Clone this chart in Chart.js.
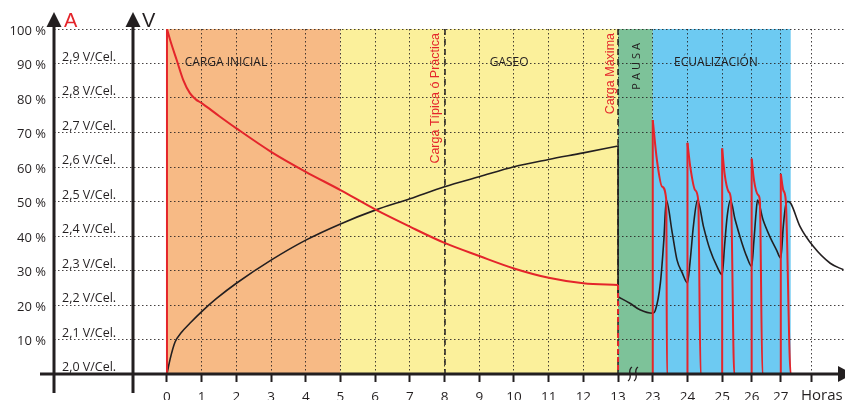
<!DOCTYPE html>
<html lang="es">
<head>
<meta charset="utf-8">
<title>Curva de carga de batería</title>
<script src="https://cdn.jsdelivr.net/npm/chart.js@4.4.1/dist/chart.umd.min.js"></script>
<style>
  html, body { margin: 0; padding: 0; background: #fff; }
  #chart-wrap { width: 845px; height: 400px; }
</style>
</head>
<body>
<div id="chart-wrap"><canvas id="chart-charge" width="845" height="400"></canvas></div>
<script>
'use strict';

// ── Datos ─────────────────────────────────────────────────
// eje X partido: de 13 h salta a 23 h
const tickHours  = [0, 1, 2, 3, 4, 5, 6, 7, 8, 9, 10, 11, 12, 13, 23, 24, 25, 26, 27, 28];
const tickLabels = ['0', '1', '2', '3', '4', '5', '6', '7', '8', '9', '10', '11', '12', '13', '23', '24', '25', '26', '27', ''];
const tickSlots  = [0, 1, 2, 3, 4, 5, 6, 7, 8, 9, 10, 11, 12, 13, 14, 15, 16, 16.85, 17.69, 18.58];

const percentTicks = [0, 10, 20, 30, 40, 50, 60, 70, 80, 90, 100];
const voltLabels   = ['2,0 V/Cel.', '2,1 V/Cel.', '2,2 V/Cel.', '2,3 V/Cel.', '2,4 V/Cel.',
                      '2,5 V/Cel.', '2,6 V/Cel.', '2,7 V/Cel.', '2,8 V/Cel.', '2,9 V/Cel.'];

const phaseNames  = ['CARGA INICIAL', 'GASEO', 'PAUSA', 'ECUALIZACIÓN'];
const phaseStart  = [0, 5, 13, 23];
const phaseEnd    = [5, 13, 23, 27.32];

const markerHours  = [8, 13];
const markerLabels = ['Carga Típica ó Práctica', 'Carga Máxima'];

// corriente (A, %) — curva roja
const currentHours = [0, 0, 0.1, 0.28, 0.47, 0.66, 0.83, 1, 1.5, 2, 3, 4, 5, 6, 7, 8, 9, 10, 11, 12, 13, 13,
  23, 23, 23.12, 23.27, 23.39, 23.41,
  24, 24, 24.08, 24.22, 24.31, 24.38,
  25, 25, 25.08, 25.22, 25.3, 25.41,
  26, 26, 26.08, 26.22, 26.28, 26.37,
  27, 27, 27.08, 27.16, 27.32, 28.35];
const currentValues = [0, 100, 96.5, 91, 85.2, 81.4, 79.6, 78.5, 74.8, 71.2, 64.4, 58.6, 53.3, 47.7, 42.7, 38, 34.2, 30.6, 27.9, 26.3, 25.8, 0,
  0, 73.6, 62, 54.3, 50.4, 0,
  0, 67, 60.1, 53.3, 50.4, 0,
  0, 65.4, 58.2, 52.8, 50.4, 0,
  0, 62.4, 56.2, 51.9, 50.4, 0,
  0, 58, 53.3, 50.4, 0, 0];

// tensión (V/Cel., %) — curva negra
const voltageHours = [0, 0.09, 0.23, 0.42, 0.66, 1, 1.43, 2, 3, 4, 5, 6, 7, 8, 9, 10, 11, 12, 13, 13,
  16.4, 19.3, 23, 23.07, 23.22, 23.32, 23.39,
  23.56, 23.7, 23.85, 24, 24.08, 24.17, 24.29,
  24.46, 24.65, 24.85, 25, 25.08, 25.17, 25.28,
  25.44, 25.67, 25.83, 26, 26.08, 26.15, 26.2,
  26.39, 26.62, 26.85, 27, 27.08, 27.16, 27.22, 27.32,
  27.62, 28.05, 28.6, 29.03];
const voltageValues = [0, 4.3, 9.2, 12.1, 14.7, 18.1, 21.9, 26.3, 33, 38.8, 43.5, 47.5, 50.8, 54.3, 57.2, 60.1, 62.2, 64.1, 66.1, 22.4,
  20.5, 18.6, 17.6, 18.3, 26.4, 39, 50.4,
  41, 33, 29.3, 26.4, 33, 42.8, 50.4,
  42.8, 36, 31.2, 28.8, 37, 45.7, 50.4,
  44.7, 38, 34.1, 31.2, 38.9, 46.6, 50.4,
  44.7, 39.9, 36, 33.6, 42.8, 49, 50, 49.5,
  42.8, 37, 32.1, 30.2];

// ── Helpers ───────────────────────────────────────────────
function hourToSlot(h) {
  const n = tickHours.length;
  for (let i = 1; i < n; i++) {
    if (h <= tickHours[i]) {
      const a = tickHours[i - 1], b = tickHours[i];
      return tickSlots[i - 1] + (h - a) / (b - a) * (tickSlots[i] - tickSlots[i - 1]);
    }
  }
  const k = (tickSlots[n - 1] - tickSlots[n - 2]) / (tickHours[n - 1] - tickHours[n - 2]);
  return tickSlots[n - 1] + (h - tickHours[n - 1]) * k;
}

// corta la serie en tramos suaves y saltos verticales
function splitRuns(hours, values) {
  const runs = [];
  let cur = [];
  hours.forEach((h, i) => {
    const pt = { x: hourToSlot(h), y: values[i] };
    const prev = cur[cur.length - 1];
    if (prev && prev.x === pt.x) {
      if (cur.length > 1) runs.push({ points: cur, vertical: false });
      runs.push({ points: [prev, pt], vertical: true });
      cur = [pt];
    } else {
      cur.push(pt);
    }
  });
  if (cur.length > 1) runs.push({ points: cur, vertical: false });
  return runs;
}

const INK = '#231F20';
const RED = '#E4252B';
const PHASE_COLORS = ['#F7BA85', '#FBF09B', '#7DC299', '#6DCAF2'];

function seriesDatasets(label, hours, values, color, width) {
  return splitRuns(hours, values).map(r => ({
    label,
    data: r.points,
    borderColor: color,
    borderWidth: width,
    pointRadius: 0,
    tension: 0,
    cubicInterpolationMode: r.vertical ? 'default' : 'monotone',
    // bajada de corriente a las 13 h en trazos
    borderDash: (r.vertical && color === RED && r.points[0].x === 13) ? [5, 3] : []
  }));
}

// ── Decoración: bandas, ejes, rótulos ─────────────────────
const chargeDecor = {
  id: 'chargeDecor',

  beforeDraw(chart) {
    const { ctx, scales: { x, y } } = chart;
    const top = y.getPixelForValue(100), bottom = y.getPixelForValue(0);
    ctx.save();
    phaseStart.forEach((h, i) => {
      const x0 = x.getPixelForValue(hourToSlot(h));
      const x1 = x.getPixelForValue(hourToSlot(phaseEnd[i]));
      ctx.fillStyle = PHASE_COLORS[i];
      ctx.fillRect(x0, top, x1 - x0, bottom - top);
    });
    ctx.restore();
  },

  beforeDatasetsDraw(chart) {
    const { ctx, scales: { x, y } } = chart;
    ctx.save();
    ctx.strokeStyle = INK;
    ctx.lineWidth = 1.5;
    ctx.setLineDash([6, 4]);
    markerHours.forEach(h => {
      const px = Math.round(x.getPixelForValue(hourToSlot(h)));
      ctx.beginPath();
      ctx.moveTo(px, y.getPixelForValue(100));
      ctx.lineTo(px, y.getPixelForValue(0));
      ctx.stroke();
    });
    ctx.restore();
  },

  afterDraw(chart) {
    const { ctx, chartArea: a, scales: { x, y } } = chart;
    const axisY = y.getPixelForValue(0);
    const axisA = a.left, axisV = a.left + 79;
    ctx.save();

    // rótulos de fase
    ctx.fillStyle = INK;
    ctx.font = '12px "Open Sans"';
    ctx.textAlign = 'center';
    ctx.textBaseline = 'middle';
    const labelHours = [1.7, 9.86, null, 24.82];
    phaseNames.forEach((name, i) => {
      if (labelHours[i] == null) return;
      ctx.fillText(name, x.getPixelForValue(hourToSlot(labelHours[i])), y.getPixelForValue(90.4));
    });

    // PAUSA vertical
    ctx.save();
    ctx.translate(x.getPixelForValue(hourToSlot(18.5)), y.getPixelForValue(89.6));
    ctx.rotate(-Math.PI / 2);
    ctx.letterSpacing = '3px';
    ctx.font = '11px "Open Sans"';
    ctx.fillText(phaseNames[2], 0, 0);
    ctx.restore();

    // rótulos de las marcas (rojos, verticales)
    ctx.fillStyle = RED;
    ctx.font = '12.5px "Liberation Sans"';
    ctx.textAlign = 'right';
    const markerOffsets = [-9, -7.5];
    markerHours.forEach((h, i) => {
      ctx.save();
      ctx.translate(x.getPixelForValue(hourToSlot(h)) + markerOffsets[i], y.getPixelForValue(100) + 4);
      ctx.rotate(-Math.PI / 2);
      ctx.fillText(markerLabels[i], 0, 0);
      ctx.restore();
    });

    // etiquetas de tensión
    ctx.fillStyle = INK;
    ctx.font = '12.5px "Open Sans"';
    ctx.textAlign = 'left';
    ctx.textBaseline = 'alphabetic';
    voltLabels.forEach((lbl, i) => {
      ctx.fillText(lbl, axisA + 8, y.getPixelForValue(percentTicks[i]) - 3);
    });

    // ejes
    ctx.strokeStyle = INK;
    ctx.fillStyle = INK;
    ctx.lineWidth = 3;
    ctx.beginPath();
    ctx.moveTo(40, axisY);
    ctx.lineTo(840, axisY);
    [axisA, axisV].forEach(px => {
      ctx.moveTo(px, 22);
      ctx.lineTo(px, 393);
    });
    ctx.stroke();

    // flechas
    [axisA, axisV].forEach(px => {
      ctx.beginPath();
      ctx.moveTo(px - 7.5, 27);
      ctx.lineTo(px + 7.5, 27);
      ctx.lineTo(px, 12);
      ctx.closePath();
      ctx.fill();
    });
    ctx.beginPath();
    ctx.moveTo(838, axisY - 8);
    ctx.lineTo(838, axisY + 8);
    ctx.lineTo(853, axisY);
    ctx.closePath();
    ctx.fill();

    // títulos de ejes
    ctx.font = '20px "Liberation Sans"';
    ctx.textBaseline = 'alphabetic';
    ctx.fillStyle = RED;
    ctx.fillText('A', axisA + 10, 27);
    ctx.fillStyle = INK;
    ctx.fillText('V', axisV + 9, 27);

    // Horas
    ctx.font = '15px "Open Sans"';
    ctx.fillText('Horas', 801, 400);

    // corte del eje
    ctx.lineWidth = 1.3;
    [630, 636].forEach(cx => {
      ctx.beginPath();
      ctx.moveTo(cx + 2, axisY - 7);
      ctx.bezierCurveTo(cx - 4, axisY - 3, cx + 4, axisY + 3, cx - 2, axisY + 7);
      ctx.stroke();
    });

    ctx.restore();
  }
};

// ── Gráfico ───────────────────────────────────────────────
const gridStyle = { color: 'rgba(35,31,32,0.85)', lineWidth: 1 };

new Chart(document.getElementById('chart-charge').getContext('2d'), {
  type: 'line',
  data: {
    datasets: [
      ...seriesDatasets('Corriente', currentHours, currentValues, RED, 2),
      ...seriesDatasets('Tensión', voltageHours, voltageValues, INK, 1.6)
    ]
  },
  options: {
    responsive: false,
    animation: false,
    layout: { padding: { top: 29, right: 0, bottom: 0, left: 0 } },
    plugins: { legend: { display: false }, tooltip: { enabled: false } },
    scales: {
      x: {
        type: 'linear',
        min: -3.256,
        max: 19.54,
        afterFit: s => { s.height = 26; },
        afterBuildTicks: s => { s.ticks = tickSlots.map(v => ({ value: v })); },
        grid: { ...gridStyle, drawTicks: true, tickLength: 8, tickColor: INK, tickWidth: 2, tickBorderDash: [] },
        border: { display: false, dash: [1.5, 2.5] },
        ticks: {
          autoSkip: false, maxRotation: 0, padding: 7, color: INK,
          font: { family: 'Open Sans', size: 13.5 },
          callback: (v, i) => tickLabels[i]
        }
      },
      y: {
        type: 'linear',
        min: 0,
        max: 100,
        afterFit: s => { s.width = 54; },
        afterBuildTicks: s => { s.ticks = percentTicks.map(v => ({ value: v })); },
        grid: { ...gridStyle, drawTicks: false },
        border: { display: false, dash: [1.5, 2.5] },
        ticks: {
          padding: 8, labelOffset: 2, color: INK,
          font: { family: 'Open Sans', size: 13 },
          callback: v => v === 0 ? '' : v + ' %'
        }
      }
    }
  },
  plugins: [chargeDecor]
});
</script>
</body>
</html>
